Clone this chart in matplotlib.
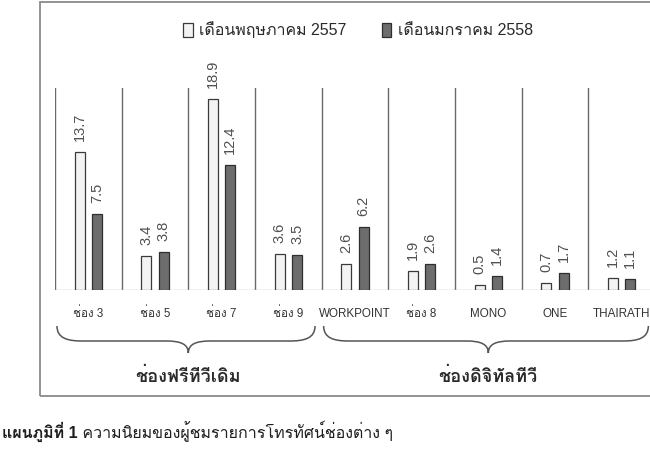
import matplotlib
matplotlib.use("Agg")
import matplotlib.pyplot as plt
from matplotlib import font_manager as fm
from matplotlib.ft2font import FT2Font
from matplotlib.patches import Patch, Rectangle, PathPatch
from matplotlib.path import Path
from matplotlib.transforms import IdentityTransform
import numpy as np

# ---- data ----
channels = ["ช่อง 3", "ช่อง 5", "ช่อง 7", "ช่อง 9", "WORKPOINT",
            "ช่อง 8", "MONO", "ONE", "THAIRATH"]
may_2557 = [13.7, 3.4, 18.9, 3.6, 2.6, 1.9, 0.5, 0.7, 1.2]
jan_2558 = [7.5, 3.8, 12.4, 3.5, 6.2, 2.6, 1.4, 1.7, 1.1]
series_labels = ["เดือนพฤษภาคม 2557", "เดือนมกราคม 2558"]
groups = [("ช่องฟรีทีวีเดิม", 0, 3), ("ช่องดิจิทัลทีวี", 4, 8)]
caption_bold = "แผนภูมิที่ 1"
caption_rest = " ความนิยมของผู้ชมรายการโทรทัศน์ช่องต่าง ๆ"


def family_with(ch, fallback="DejaVu Sans"):
    """First installed font family that has a glyph for ch."""
    for f in fm.fontManager.ttflist:
        try:
            if ord(ch) in FT2Font(f.fname).get_charmap():
                return f.name
        except Exception:
            continue
    return fallback


thai = family_with("ช")
latin = "Liberation Sans"
mixed = [latin, thai, "DejaVu Sans"]
plt.rcParams["font.family"] = mixed

W, H, DPI = 650, 450, 100
fig = plt.figure(figsize=(W / DPI, H / DPI), dpi=DPI)
fig.patch.set_facecolor("white")

# axes: baseline at y=290px, 9 slots of ~66.7px starting at x=55px
ax = fig.add_axes([55 / W, (H - 290) / H, 600 / W, 202 / H])
ax.set_xlim(-0.5, len(channels) - 0.5)
ax.set_ylim(0, 20)
ax.axis("off")

x = np.arange(len(channels))
bw, off = 0.15, 0.13
b1 = ax.bar(x - off, may_2557, bw, color="#f3f3f3", edgecolor="#3a3a3a", linewidth=0.9, zorder=3)
b2 = ax.bar(x + off, jan_2558, bw, color="#6d6d6d", edgecolor="#2e2e2e", linewidth=0.9, zorder=3)

# slot dividers and baseline
for xv in np.arange(-0.5, len(channels) + 0.5, 1.0):
    ax.axvline(xv, ymin=0, ymax=1, color="#6a6a6a", lw=1.0, zorder=1)
ax.axhline(0, color="#bdbdbd", lw=1.0, zorder=2)

# rotated value labels
for bars, vals in ((b1, may_2557), (b2, jan_2558)):
    for r, v in zip(bars, vals):
        ax.annotate(f"{v:.1f}", (r.get_x() + r.get_width() / 2, v),
                    xytext=(0, 8), textcoords="offset points",
                    rotation=90, ha="center", va="bottom",
                    fontsize=10.5, color="#505050", family=latin)

# category labels under the baseline
for xi, name in zip(x, channels):
    ax.annotate(name, (xi, 0), xytext=(0, -17), textcoords="offset points",
                ha="center", va="center", fontsize=8.4, color="#333333",
                family=mixed)

# curly braces under each group, built in pixel space
def brace(x0, x1, xm, y_end, y_flat, y_tip):
    verts = [
        (x0, y_end),
        (x0, y_flat + 3), (x0 + 10, y_flat), (x0 + 25, y_flat),
        (xm - 22, y_flat),
        (xm - 8, y_flat), (xm, y_flat - 3), (xm, y_tip),
        (xm, y_flat - 3), (xm + 8, y_flat), (xm + 22, y_flat),
        (x1 - 25, y_flat),
        (x1 - 10, y_flat), (x1, y_flat + 3), (x1, y_end),
    ]
    codes = [Path.MOVETO,
             Path.CURVE4, Path.CURVE4, Path.CURVE4,
             Path.LINETO,
             Path.CURVE4, Path.CURVE4, Path.CURVE4,
             Path.CURVE4, Path.CURVE4, Path.CURVE4,
             Path.LINETO,
             Path.CURVE4, Path.CURVE4, Path.CURVE4]
    return Path(verts, codes)


fig.canvas.draw()
for label, i0, i1 in groups:
    px0 = ax.transData.transform((i0 - 0.47, 0))[0]
    px1 = ax.transData.transform((i1 + 0.40, 0))[0]
    pxm = ax.transData.transform(((i0 + i1) / 2, 0))[0]
    p = brace(px0, px1, pxm, H - 326, H - 341, H - 353)
    fig.add_artist(PathPatch(p, facecolor="none", edgecolor="#555555", lw=1.1,
                             transform=IdentityTransform()))
    fig.text(pxm / W, 1 - 377 / H, label, ha="center", va="center",
             fontsize=13, fontweight="bold", color="#2a2a2a", family=mixed)

# legend
handles = [Patch(facecolor="#f3f3f3", edgecolor="#3a3a3a", lw=0.9),
           Patch(facecolor="#6d6d6d", edgecolor="#2e2e2e", lw=0.9)]
fig.legend(handles, series_labels, loc="center", ncol=2,
           bbox_to_anchor=(358 / W, 1 - 30 / H), frameon=False,
           handlelength=0.6, handleheight=1.0, handletextpad=0.4,
           columnspacing=2.2, fontsize=11.5, labelcolor="#2a2a2a")

# outer frame
fig.add_artist(Rectangle((40 / W, 1 - 396 / H), 700 / W, 394 / H,
                         transform=fig.transFigure, facecolor="none",
                         edgecolor="#8a8a8a", lw=1.3))

# caption below the frame
cap_y = 1 - 438 / H
t = fig.text(2 / W, cap_y, caption_bold, ha="left", va="baseline",
             fontsize=11.5, fontweight="bold", color="#1e1e1e", family=mixed)
fig.canvas.draw()
bb = t.get_window_extent()
fig.text(bb.x1 / W, cap_y, caption_rest, ha="left", va="baseline",
         fontsize=11.5, color="#1e1e1e", family=mixed)

fig.savefig("out.png", dpi=DPI, facecolor="white")
